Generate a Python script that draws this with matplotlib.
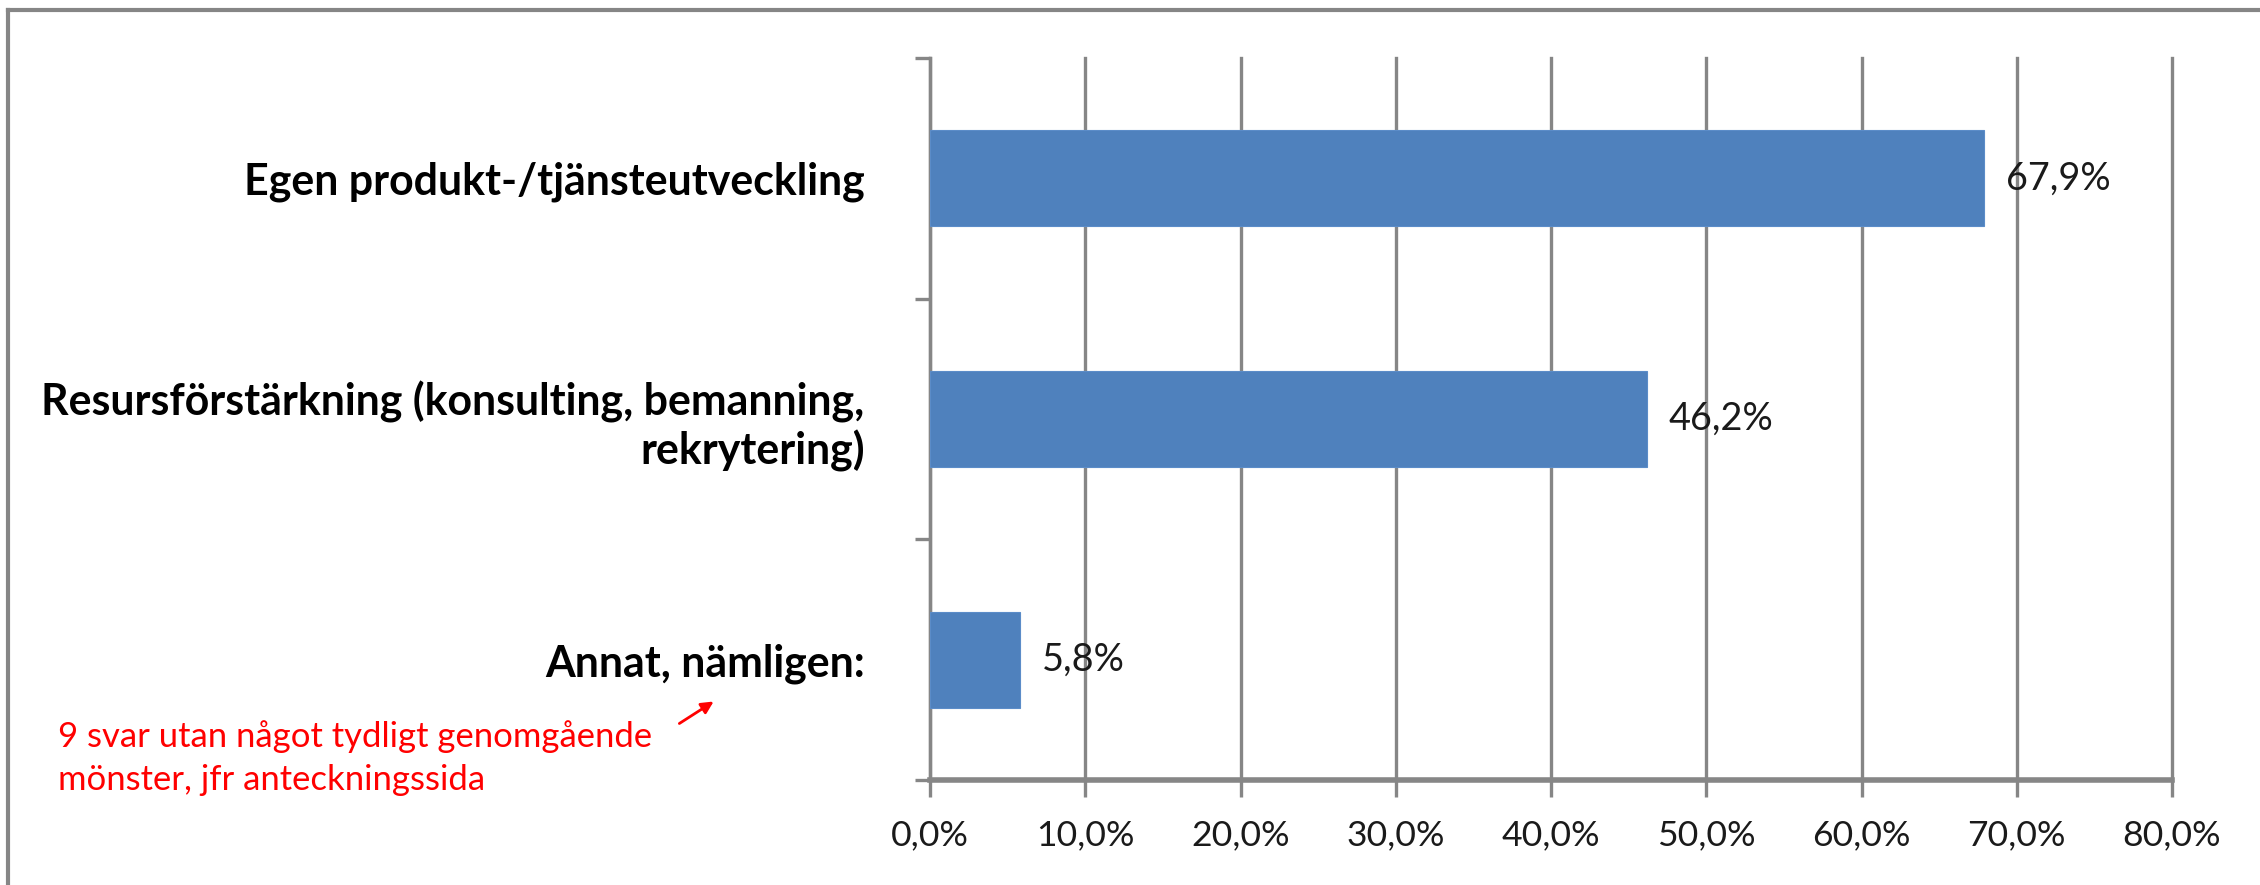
import matplotlib
matplotlib.use("Agg")
import matplotlib.pyplot as plt
from matplotlib.lines import Line2D
from matplotlib.patches import FancyArrowPatch
from matplotlib.ticker import FixedLocator, FuncFormatter

categories = [
    "Annat, nämligen:",
    "Resursförstärkning (konsulting, bemanning,\nrekrytering)",
    "Egen produkt-/tjänsteutveckling",
]
values = [5.8, 46.2, 67.9]
x_ticks = [0, 10, 20, 30, 40, 50, 60, 70, 80]
note_text = "9 svar utan något tydligt genomgående\nmönster, jfr anteckningssida"

BAR_COLOR = "#4F81BD"
GRID_COLOR = "#868686"
FONT = "Lato"

W, H = 2260, 885
fig = plt.figure(figsize=(W / 100, H / 100), dpi=100)
fig.patch.set_facecolor("white")


def pct(v):
    return f"{v:.1f}%".replace(".", ",")


def fit_width(txt, target_px):
    """Scale a text's font size so that its rendered width equals target_px."""
    r = fig.canvas.get_renderer()
    w = txt.get_window_extent(r).width
    txt.set_fontsize(txt.get_fontsize() * target_px / w)


# outer chart frame: top and left edges
fx, fy = 8 / W, 1 - 10 / H
fig.add_artist(Line2D([fx, 1.0], [fy, fy], transform=fig.transFigure,
                      color=GRID_COLOR, linewidth=3, solid_capstyle="projecting"))
fig.add_artist(Line2D([fx, fx], [0.0, fy], transform=fig.transFigure,
                      color=GRID_COLOR, linewidth=3, solid_capstyle="projecting"))

ax = fig.add_axes([930 / W, 1 - 780 / H, (2172 - 930) / W, (780 - 58) / H])
ypos = list(range(len(categories)))
ax.barh(ypos, values, height=0.4, color=BAR_COLOR, edgecolor="#5B8CC8", linewidth=0.8, zorder=3)

ax.set_xlim(0, 80)
ax.set_ylim(-0.5, len(categories) - 0.5)

ax.xaxis.set_major_locator(FixedLocator(x_ticks))
ax.xaxis.set_major_formatter(FuncFormatter(lambda v, p: pct(v)))
ax.grid(axis="x", color=GRID_COLOR, linewidth=2.4, zorder=1)
for gl in ax.get_xgridlines():
    gl.set_clip_on(False)
ax.tick_params(axis="x", length=12, width=2.4, color=GRID_COLOR, pad=16,
               labelsize=24, labelcolor="#1a1a1a")
for lab in ax.get_xticklabels():
    lab.set_family(FONT)

ax.set_yticks(ypos)
ax.set_yticklabels(categories, fontsize=30, fontweight="bold",
                   family=FONT, multialignment="right", color="black")
ax.tick_params(axis="y", which="major", length=0, pad=47)
ax.set_yticks([-0.5, 0.5, 1.5, 2.5], minor=True)
ax.tick_params(axis="y", which="minor", length=11, width=2.4, color=GRID_COLOR)

for side in ("top", "right"):
    ax.spines[side].set_visible(False)
ax.spines["left"].set_color(GRID_COLOR)
ax.spines["left"].set_linewidth(2.4)
ax.spines["bottom"].set_color(GRID_COLOR)
ax.spines["bottom"].set_linewidth(4)

value_texts = []
for y, v in zip(ypos, values):
    value_texts.append(ax.text(v + 1.4, y, pct(v), va="center", ha="left",
                               fontsize=25, family=FONT, color="#1a1a1a", zorder=4))

# red note with arrow pointing at the "Annat" label
note = fig.text(58 / W, 1 - 758 / H, note_text, color="#FF0000", fontsize=24,
                family=FONT, ha="left", va="center", linespacing=1.4)
fig.patches.append(FancyArrowPatch((677 / W, 1 - 725 / H), (716 / W, 1 - 700 / H),
                                   transform=fig.transFigure, arrowstyle="-|>",
                                   mutation_scale=18, color="#FF0000", linewidth=2))

# size the texts to the widths used in the layout
fig.canvas.draw()
ylabs = ax.get_yticklabels()
fit_width(ylabs[2], 621)
lab_size = ylabs[2].get_fontsize()
for lab in ylabs:
    lab.set_fontsize(lab_size)
xlabs = ax.get_xticklabels()
fit_width(xlabs[-1], 98)
ax.tick_params(axis="x", labelsize=xlabs[-1].get_fontsize())
fit_width(value_texts[2], 105)
for t in value_texts:
    t.set_fontsize(value_texts[2].get_fontsize())
fit_width(note, 594)

fig.savefig("out.png", dpi=100, facecolor="white")
